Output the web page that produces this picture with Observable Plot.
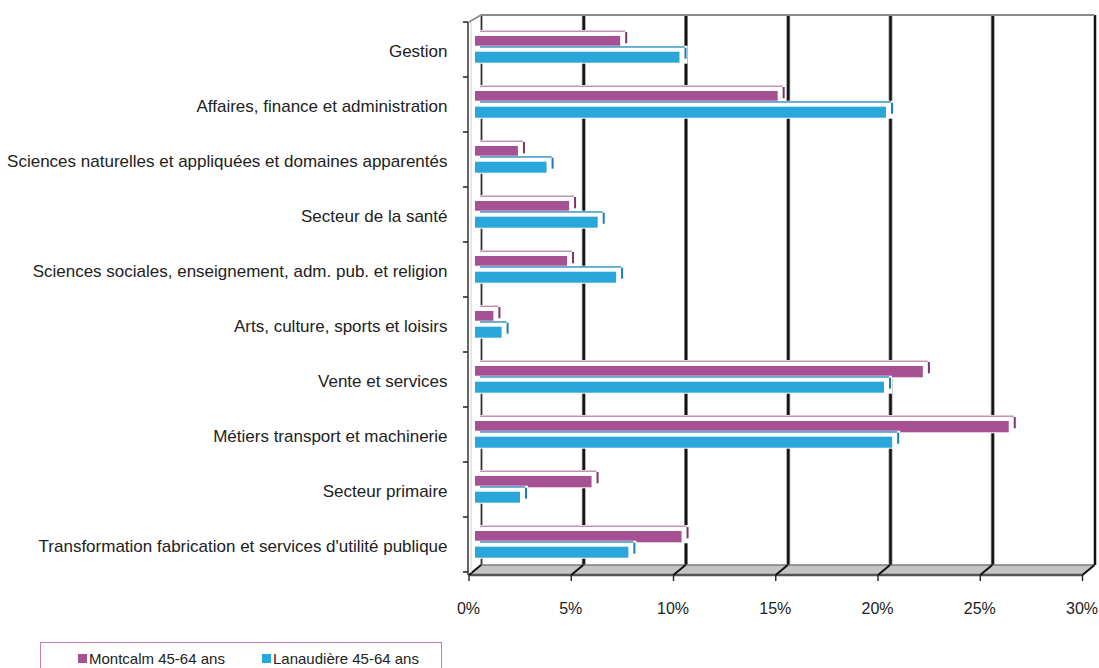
<!DOCTYPE html>
<html>
<head>
<meta charset="utf-8">
<script src="https://cdn.jsdelivr.net/npm/d3@7"></script>
<script src="https://cdn.jsdelivr.net/npm/@observablehq/plot@0.6"></script>
<style>
  html, body { margin: 0; padding: 0; background: #fff; }
  #wrap { position: relative; width: 1099px; height: 668px; overflow: hidden; font-family: "Liberation Sans", Arial, sans-serif; }
  #legend { position: absolute; left: 40px; top: 642px; width: 402px; height: 40px; border: 1px solid #c77dba; box-sizing: border-box; font-size: 15px; color: #222; }
  .item { position: absolute; top: 7px; display: flex; align-items: center; white-space: nowrap; }
  .sw { width: 9px; height: 9px; margin-right: 2px; }
</style>
</head>
<body>
<div id="wrap">
  <div id="chart"></div>
  <div id="legend"></div>
</div>
<script>
const categories = [
  "Gestion",
  "Affaires, finance et administration",
  "Sciences naturelles et appliquées et domaines apparentés",
  "Secteur de la santé",
  "Sciences sociales, enseignement, adm. pub. et religion",
  "Arts, culture, sports et loisirs",
  "Vente et services",
  "Métiers transport et machinerie",
  "Secteur primaire",
  "Transformation fabrication et services d'utilité publique"
];
const montcalm   = [7.1, 14.8, 2.1, 4.6, 4.5, 0.9, 21.9, 26.1, 5.7, 10.1];
const lanaudiere = [10.0, 20.1, 3.5, 6.0, 6.9, 1.3, 20.0, 20.4, 2.2, 7.5];
const seriesNames = ["Montcalm 45-64 ans", "Lanaudière 45-64 ans"];
const seriesColors = ["#a65194", "#29a7db"];
const xTicks = [0, 5, 10, 15, 20, 25, 30];

const mData = categories.map((c, i) => ({cat: c, v: montcalm[i]}));
const lData = categories.map((c, i) => ({cat: c, v: lanaudiere[i]}));

const BAND = 55;
const M = {top: 14, bottom: BAND - 25.3};
const L = {top: 29.7, bottom: BAND - 40.7};

function barSet(data, pos, front, edge, cap) {
  return [
    Plot.barX(data, {x1: 0, x2: "v", y: "cat", fill: "white",
      insetTop: pos.top - 6, insetBottom: pos.bottom - 1, insetLeft: -1, insetRight: -8}),
    Plot.barX(data, {x1: 0, x2: "v", y: "cat", fill: edge, dx: 5,
      insetTop: pos.top - 5.5, insetBottom: BAND - (pos.top - 4)}),
    Plot.barX(data, {x1: "v", x2: "v", y: "cat", fill: cap,
      insetLeft: 5, insetRight: -7, insetTop: pos.top - 4, insetBottom: pos.bottom + 4}),
    Plot.barX(data, {x1: 0, x2: "v", y: "cat", fill: front,
      insetTop: pos.top, insetBottom: pos.bottom})
  ];
}

const plot = Plot.plot({
  width: 1099,
  height: 630,
  marginLeft: 475,
  marginRight: 10.5,
  marginTop: 22,
  marginBottom: 58,
  style: {fontFamily: "Liberation Sans, Arial, sans-serif", color: "#222", background: "white"},
  x: {domain: [0, 30], axis: null},
  y: {domain: categories, padding: 0, axis: null},
  marks: [
    Plot.ruleX(xTicks.filter(t => t > 0 && t < 30), {x: d => d, dx: 6, dy: -7, stroke: "#9a9a9a", strokeWidth: 4}),
    Plot.ruleX(xTicks.filter(t => t > 0 && t < 30), {x: d => d, dx: 6, dy: -7, stroke: "#111", strokeWidth: 2.4}),
    Plot.ruleX([0], {x: d => d, dx: 6, dy: -7, stroke: "#333", strokeWidth: 1.8}),
    Plot.ruleX([30], {x: d => d, dx: 6, dy: -7, stroke: "#111", strokeWidth: 2.5}),
    ...barSet(mData, M, seriesColors[0], "#c096b8", "#7e3370"),
    ...barSet(lData, L, seriesColors[1], "#3b94c4", "#1c7db0"),
    Plot.axisY({domain: categories, tickSize: 0, tickPadding: 28, dy: 2, fontSize: 17, label: null}),
    Plot.axisX({ticks: xTicks, tickSize: 0, tickPadding: 30, dx: -7, fontSize: 16, tickFormat: d => d + "%", label: null})
  ]
});
document.getElementById("chart").appendChild(plot);

const sx = plot.scale("x").apply;
const ys = plot.scale("y");
const yTop = ys.apply(categories[0]);
const yBot = ys.apply(categories[categories.length - 1]) + ys.bandwidth;
const svg = d3.select(plot);
const deco = svg.insert("g", ":first-child");
const frontY = yBot + 3, backY = yBot - 7;
deco.append("polygon")
  .attr("points", [[sx(0) + 6, backY], [sx(30) + 6, backY], [sx(30) - 6, frontY], [sx(0) - 6, frontY]].join(" "))
  .attr("fill", "#c4c4c4").attr("stroke", "#8a8a8a").attr("stroke-width", 1);
const fg = svg.append("g");
fg.append("line").attr("x1", sx(0) - 6).attr("x2", sx(30) - 6).attr("y1", frontY).attr("y2", frontY)
  .attr("stroke", "#555").attr("stroke-width", 2.5);
fg.append("line").attr("x1", sx(0) + 6).attr("x2", sx(30) + 6).attr("y1", backY).attr("y2", backY)
  .attr("stroke", "#777").attr("stroke-width", 1.2);
xTicks.forEach(t => {
  fg.append("line").attr("x1", sx(t) + 6).attr("y1", backY).attr("x2", sx(t) - 6).attr("y2", frontY)
    .attr("stroke", "#111").attr("stroke-width", 2);
  fg.append("line").attr("x1", sx(t) - 6).attr("y1", frontY).attr("x2", sx(t) - 6).attr("y2", frontY + 6)
    .attr("stroke", "#222").attr("stroke-width", 1.4);
});
fg.append("line").attr("x1", sx(0) + 6).attr("x2", sx(30) + 6).attr("y1", yTop - 7).attr("y2", yTop - 7)
  .attr("stroke", "#8a8a8a").attr("stroke-width", 2);
fg.append("line").attr("x1", sx(0) - 6).attr("y1", yTop).attr("x2", sx(0) + 6).attr("y2", yTop - 7)
  .attr("stroke", "#8a8a8a").attr("stroke-width", 1.5);
fg.append("line").attr("x1", sx(0) - 7).attr("x2", sx(0) - 7).attr("y1", yTop).attr("y2", frontY)
  .attr("stroke", "#333").attr("stroke-width", 1.5);
fg.append("line").attr("x1", sx(0) - 4).attr("x2", sx(0) - 4).attr("y1", yTop).attr("y2", frontY - 2)
  .attr("stroke", "#d0d0d0").attr("stroke-width", 1);
const bounds = categories.map(c => ys.apply(c)).concat([yBot]);
bounds.forEach(b => {
  fg.append("line").attr("x1", sx(0) - 12).attr("x2", sx(0) - 7).attr("y1", b).attr("y2", b)
    .attr("stroke", "#222").attr("stroke-width", 1.5);
});

const legend = document.getElementById("legend");
const lefts = [37, 221];
seriesNames.forEach((name, i) => {
  const it = document.createElement("div");
  it.className = "item";
  it.style.left = lefts[i] + "px";
  it.innerHTML = `<span class="sw" style="background:${seriesColors[i]}"></span><span>${name}</span>`;
  legend.appendChild(it);
});
</script>
</body>
</html>
